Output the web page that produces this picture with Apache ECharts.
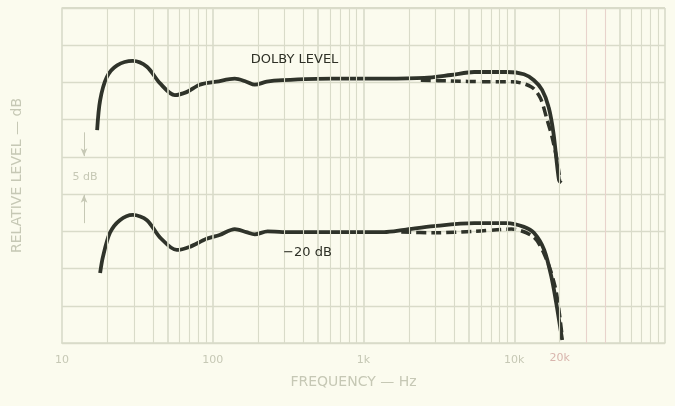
<!DOCTYPE html>
<html>
<head>
<meta charset="utf-8">
<script src="https://cdn.jsdelivr.net/npm/echarts@6/dist/echarts.min.js"></script>
<style>
html,body{margin:0;padding:0;background:#fbfbee;}
#c{width:675px;height:406px;}
</style>
</head>
<body>
<div id="c"></div>
<script>
// Frequency (Hz) / relative level (dB) pairs
const dolbySolid = [
  [17.1,28.6],[17.9,32.6],[19.8,35.7],[23.2,37.3],[29.5,37.9],[36.6,37.1],[44.6,34.9],
  [56,33.3],[67,33.7],[82,34.7],[106,35.1],[140,35.5],[167,35.1],[190,34.7],[228,35.1],
  [290,35.3],[620,35.5],[1370,35.5],[2530,35.6],[3800,36.0],[5420,36.4],[8930,36.4],
  [11600,36.1],[13500,35.3],[15300,34.0],[16900,31.7],[18200,28.2],[19800,21.9],[20500,21.5]
];
const dolbyDashed = [
  [2400,35.3],[3800,35.2],[6300,35.1],[9700,35.1],[13000,34.4],[14900,32.9],
  [16400,30.2],[17800,27.7],[19200,24.6],[20100,21.9]
];
const minus20Solid = [
  [17.9,9.4],[18.7,11.6],[20.8,14.8],[24.2,16.5],[29.5,17.2],[36.6,16.5],[44.6,14.2],
  [57.7,12.5],[70,12.9],[91,14.0],[111,14.5],[140,15.3],[167,14.9],[190,14.6],[231,15.0],
  [290,14.9],[620,14.9],[1370,14.9],[1860,15.2],[2930,15.7],[5420,16.1],[8930,16.1],
  [11600,15.6],[13500,14.8],[15800,12.5],[17800,8.5],[19200,4.8],[20800,0.4]
];
const minus20Dashed = [
  [1780,14.9],[2930,14.8],[5420,15.0],[9560,15.3],[13500,14.2],[16400,11.2],
  [18700,7.5],[19800,4.4],[20800,0.8]
];
const tickLabels = {10:'10',100:'100',1000:'1k',10000:'10k'};
const annotations = [
  {name:'DOLBY LEVEL', coord:[349,38.0]},
  {name:'−20 dB', coord:[425,12.1]}
];
const stepLabel = {name:'5 dB', coord:[14.2,22.3]};
const stepArrows = [
  [[14.0,28.3],[14.0,25.1]],
  [[14.0,16.1],[14.0,19.9]]
];

const gridColor = '#d9dbc9';
const pinkGrid = '#e8d3cc';
const textGray = '#c6c8b5';
const ink = '#2f332a';

const vLines = [];
for (let k = 1; k <= 4; k++) {
  for (let m = 1; m <= 9; m++) {
    const f = m * Math.pow(10, k);
    if (f === 10 || f === 20000) continue;
    const pink = (f === 30000 || f === 40000);
    vLines.push({xAxis: f, lineStyle: {type: 'solid', color: pink ? pinkGrid : gridColor, width: (m === 1 || m === 5) ? 1.6 : 1.1}});
  }
}
vLines.push({xAxis: 100000, lineStyle: {type: 'solid', color: gridColor, width: 1.6}});
vLines.push({xAxis: 20000, lineStyle:{type: 'solid', color: gridColor, width: 1.1},
  label: {show:true, position:'start', formatter:'20k', color:'#d8b5ad', fontSize:11, fontFamily:'DejaVu Sans', distance:10}});

const chart = echarts.init(document.getElementById('c'), null, {renderer:'canvas'});
chart.setOption({
  backgroundColor: '#fbfbee',
  animation: false,
  grid: {left: 62, top: 8, right: 10, bottom: 63},
  xAxis: {
    type: 'log', logBase: 10, min: 10, max: 100000,
    axisLine: {show: true, lineStyle: {color: gridColor, width: 1.6}},
    axisTick: {show: false},
    splitLine: {show: false},
    axisLabel: {
      formatter: v => tickLabels[Math.round(v)] || '',
      color: textGray, fontSize: 11, fontFamily: 'DejaVu Sans', margin: 12
    },
    name: 'FREQUENCY — Hz', nameLocation: 'middle', nameGap: 32,
    nameTextStyle: {color: textGray, fontSize: 14, fontFamily: 'DejaVu Sans', padding: [0, 20, 0, 0]}
  },
  yAxis: {
    type: 'value', min: 0, max: 45, interval: 5,
    axisLine: {show: true, lineStyle: {color: gridColor, width: 1.6}},
    axisTick: {show: false},
    axisLabel: {show: false},
    splitLine: {show: true, lineStyle: {color: gridColor, width: 1.3}},
    name: 'RELATIVE LEVEL — dB', nameLocation: 'middle', nameGap: 38, nameRotate: 90,
    nameTextStyle: {color: textGray, fontSize: 14, fontFamily: 'DejaVu Sans'}
  },
  series: [
    {
      type: 'line', data: [], z: 1, silent: true,
      markLine: {
        silent: true, symbol: ['none','none'], animation: false,
        label: {show: false},
        data: vLines.concat([{yAxis: 45, lineStyle:{type: 'solid', color: gridColor, width: 2.2}}])
      }
    },
    {
      type: 'line', data: [], z: 2, silent: true,
      markLine: {
        silent: true, symbol: ['none','arrow'], symbolSize: [5,8], animation: false,
        label: {show: false},
        lineStyle: {color: textGray, width: 1, type: 'solid'},
        data: stepArrows.map(a => [{coord: a[0]}, {coord: a[1]}])
      },
      markPoint: {
        symbol: 'rect', symbolSize: 1, itemStyle: {color: 'rgba(0,0,0,0)'},
        label: {show: true, position: 'inside', formatter: stepLabel.name, color: textGray, fontSize: 11, fontFamily: 'DejaVu Sans'},
        data: [{coord: stepLabel.coord}]
      }
    },
    {
      name: 'DOLBY LEVEL dashed', type: 'line', data: dolbyDashed, smooth: 0.3, showSymbol: false, z: 3,
      lineStyle: {color: ink, width: 3.5, type: [10, 5]}
    },
    {
      name: 'DOLBY LEVEL', type: 'line', data: dolbySolid, smooth: 0.3, showSymbol: false, z: 4,
      lineStyle: {color: ink, width: 3.8}
    },
    {
      name: '-20 dB dashed', type: 'line', data: minus20Dashed, smooth: 0.3, showSymbol: false, z: 3,
      lineStyle: {color: ink, width: 3.5, type: [10, 5]}
    },
    {
      name: '-20 dB', type: 'line', data: minus20Solid, smooth: 0.3, showSymbol: false, z: 4,
      lineStyle: {color: ink, width: 3.8},
      markPoint: {
        symbol: 'rect', symbolSize: 1, itemStyle: {color: 'rgba(0,0,0,0)'},
        label: {show: true, position: 'inside', formatter: p => p.name, color: '#2e3026', fontSize: 13, fontFamily: 'DejaVu Sans'},
        data: annotations
      }
    }
  ]
});
</script>
</body>
</html>
